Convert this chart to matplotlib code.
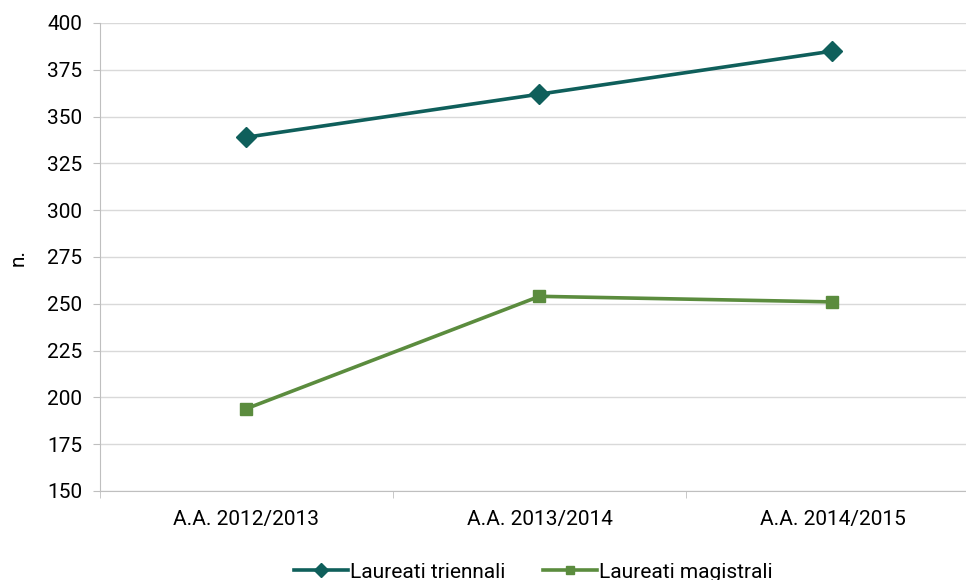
import numpy as np
import matplotlib.pyplot as plt

plt.rcParams['font.family'] = ['Roboto', 'DejaVu Sans']

anni = ['A.A. 2012/2013', 'A.A. 2013/2014', 'A.A. 2014/2015']
triennali = [339, 362, 385]
magistrali = [194, 254, 251]
yticks = [150, 175, 200, 225, 250, 275, 300, 325, 350, 375, 400]

fig = plt.figure(figsize=(9.66, 5.8), dpi=100)
ax = fig.add_axes([100 / 966, 89 / 580, 879 / 966, 468 / 580])

x = np.arange(len(anni)) + 0.5
ax.plot(x, triennali, color='#0F5F5B', lw=2.6, marker='D', ms=10,
        label='Laureati triennali', zorder=3)
ax.plot(x, magistrali, color='#5B8C3E', lw=2.6, marker='s', ms=9,
        label='Laureati magistrali', zorder=3)

ax.set_xlim(0, 3)
ax.set_ylim(150, 400)
ax.set_yticks(yticks)
ax.set_xticks(x)
ax.set_xticklabels(anni)
ax.set_xticks([0, 1, 2, 3], minor=True)
ax.tick_params(axis='x', which='major', length=0, pad=14, labelsize=15)
ax.tick_params(axis='x', which='minor', length=5, color='#BFBFBF', direction='out')
ax.tick_params(axis='y', length=5, color='#BFBFBF', labelsize=15, pad=8)
ax.grid(axis='y', color='#D9D9D9', lw=1)
ax.set_axisbelow(True)
for s in ['top', 'right']:
    ax.spines[s].set_visible(False)
for s in ['left', 'bottom']:
    ax.spines[s].set_color('#BFBFBF')
ax.set_ylabel('n.', fontsize=15, labelpad=14)

ax.legend(loc='center', bbox_to_anchor=(533 / 966, 8 / 580),
          bbox_transform=fig.transFigure, ncol=2, frameon=False,
          fontsize=15, handlelength=2.6, handletextpad=0.1,
          columnspacing=1.8, markerscale=0.7)

fig.savefig('out.png', dpi=100)
